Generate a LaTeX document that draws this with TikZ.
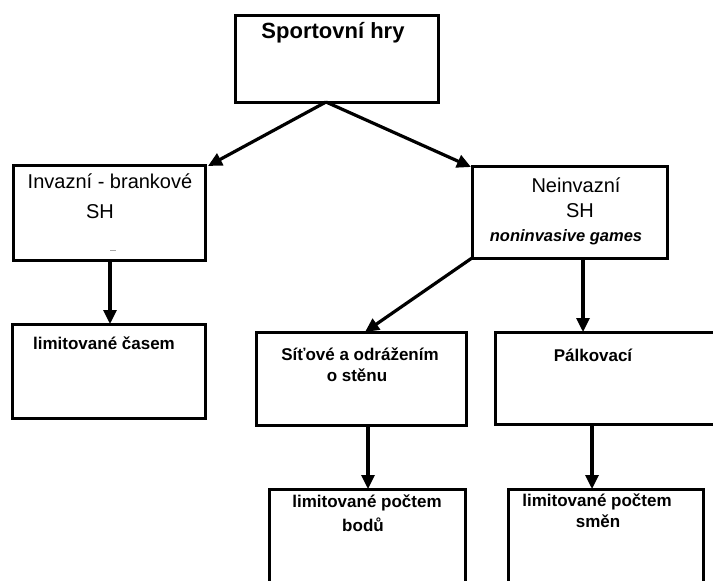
\documentclass[tikz,border=0pt]{standalone}
\usepackage{fontspec}
\setmainfont{Liberation Sans}
\usetikzlibrary{arrows.meta}
\begin{document}
\begin{tikzpicture}[x=1pt,y=-1pt,
  box/.style={draw=black,line width=3pt,fill=none},
  arr/.style={draw=black,line width=3.2pt,-{Triangle[length=14pt,width=13pt]}},
  txt/.style={inner sep=0pt,anchor=center},
  regtxt/.style={txt,font=\fontsize{20}{22}\selectfont},
  boldtxt/.style={txt,font=\fontsize{17}{19}\selectfont\bfseries},
]
\useasboundingbox (0,0) rectangle (713,581);
\clip (0,0) rectangle (713,581);

% boxes (corners in pixel units)
\path[box] (235,15) rectangle (438,102);
\coordinate (top) at (326,102);
\path[box] (13,165) rectangle (205,260);
\coordinate (invTR) at (208,166);
\coordinate (invB) at (110,260);
\path[box] (472,166) rectangle (667,258);
\coordinate (neiTL) at (471,167);
\coordinate (neiBL) at (472,258);
\coordinate (neiB) at (583,258);
\path[box] (12,324) rectangle (205,418);
\coordinate (casT) at (110,324);
\path[box] (256,332) rectangle (466,425);
\coordinate (sitT) at (365,332);
\coordinate (sitB) at (368,425);
\path[box] (495,332) rectangle (725,424);
\coordinate (palT) at (583,332);
\coordinate (palB) at (592,424);
\path[box] (269,489) rectangle (465,600);
\coordinate (bodT) at (368,489);
\path[box] (508,489) rectangle (703,600);
\coordinate (smeT) at (592,489);

% labels
\node[txt,font=\fontsize{22}{24}\selectfont\bfseries] (t1) at (333,33) {Sportovní hry};
\node[regtxt] (t2) at (110,181) {Invazní - brankové};
\node[regtxt] (t3) at (100,212) {SH};
\draw[gray!70,line width=0.8pt] (110,250) -- (116,250);
\node[regtxt] (t4) at (576,185) {Neinvazní};
\node[regtxt] (t5) at (580,211) {SH};
\node[txt,font=\fontsize{16.5}{18}\selectfont\bfseries\itshape] (t6) at (566,237) {noninvasive games};
\node[boldtxt] (t7) at (104,343) {limitované časem};
\node[boldtxt] (t8) at (360,354) {Síťové a odrážením};
\node[boldtxt] (t9) at (357,375) {o stěnu};
\node[boldtxt] (t10) at (593,355) {Pálkovací};
\node[boldtxt] (t11) at (367,503) {limitované počtem};
\node[boldtxt] (t12) at (363,525) {bodů};
\node[boldtxt] (t13) at (597,502) {limitované počtem};
\node[boldtxt] (t14) at (598,521) {směn};

% connectors
\draw[arr] (top) -- (invTR);
\draw[arr] (top) -- (neiTL);
\draw[arr] (invB) -- (casT);
\draw[arr] (neiBL) -- (sitT);
\draw[arr] (neiB) -- (palT);
\draw[arr] (sitB) -- (bodT);
\draw[arr] (palB) -- (smeT);
\end{tikzpicture}
\end{document}
